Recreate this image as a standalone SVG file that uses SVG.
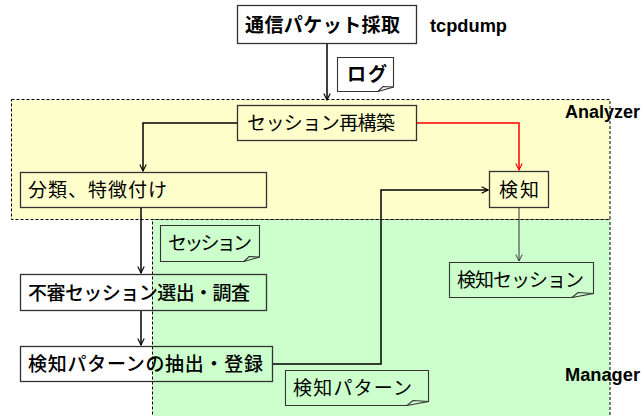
<svg xmlns="http://www.w3.org/2000/svg" width="641" height="416" viewBox="0 0 641 416">
<style>
.region{stroke:#000;stroke-width:1;stroke-dasharray:3,2}
.box{fill:none;stroke:#333;stroke-width:1.3}
.note{fill:none;stroke:#333;stroke-width:1.1}
.t{font-family:"Noto Sans CJK JP","Noto Sans",sans-serif;font-size:19px;fill:#000}
.b{font-weight:bold}
.m{font-weight:500}
.lbl{font-family:"Liberation Sans",Arial,sans-serif;font-weight:bold;font-size:17.5px;fill:#000}
.c{fill:none;stroke:#000;stroke-width:1.5}
.cr{fill:none;stroke:#f00;stroke-width:1.5}
.cg{fill:none;stroke:#333;stroke-width:1}
</style>
<defs>
<marker id="ah" markerUnits="userSpaceOnUse" viewBox="0 0 10 10" refX="9" refY="5" markerWidth="8" markerHeight="8" orient="auto"><path d="M1,1 L9,5 L1,9" fill="none" stroke="#000" stroke-width="1.4"/></marker>
<marker id="ahr" markerUnits="userSpaceOnUse" viewBox="0 0 10 10" refX="9" refY="5" markerWidth="8" markerHeight="8" orient="auto"><path d="M1,1 L9,5 L1,9" fill="none" stroke="#f00" stroke-width="1.4"/></marker>
<marker id="ahg" markerUnits="userSpaceOnUse" viewBox="0 0 10 10" refX="9" refY="5" markerWidth="8" markerHeight="8" orient="auto"><path d="M1,1 L9,5 L1,9" fill="none" stroke="#333" stroke-width="1.2"/></marker>
</defs>
<rect width="641" height="416" fill="#fff"/>
<g id="manager">
<rect class="region" x="152.5" y="219.5" width="457.5" height="210" fill="#ccffcc"/>
<text class="lbl" x="565" y="381" textLength="75" lengthAdjust="spacingAndGlyphs">Manager</text>
</g>
<g id="analyzer">
<rect class="region" x="11.5" y="99.5" width="598.5" height="120" fill="#ffffcc"/>
<text class="lbl" x="565" y="118" textLength="75" lengthAdjust="spacingAndGlyphs">Analyzer</text>
</g>
<g id="connectors">
<path class="c" d="M327,44 V100" marker-end="url(#ah)"/>
<path class="c" d="M237,123 H143 V171" marker-end="url(#ah)"/>
<path class="cr" d="M417,123 H519 V170" marker-end="url(#ahr)"/>
<path class="c" d="M141,208 V273" marker-end="url(#ah)"/>
<path class="c" d="M141,311 V345" marker-end="url(#ah)"/>
<path class="c" d="M273,364 H381 V190 H488" marker-end="url(#ah)"/>
<path class="cg" d="M519,208 V261" marker-end="url(#ahg)"/>
</g>
<g id="capture">
<rect class="box" x="237.5" y="5.5" width="179" height="38"/>
<text class="t b" x="245" y="32" textLength="155">通信パケット採取</text>
</g>
<g id="tcpdump">
<text class="lbl" x="430" y="32" textLength="77" lengthAdjust="spacingAndGlyphs">tcpdump</text>
</g>
<g id="log">
<path class="note" d="M337.5,57.5 H393.5 V87 L378,91.5 H337.5 Z"/>
<path class="note" d="M378,91.5 L383,86.5 L393.5,87"/>
<text class="t b" x="347" y="81" textLength="40">ログ</text>
</g>
<g id="rebuild">
<rect class="box" x="237.5" y="105.5" width="179" height="35"/>
<text class="t" x="247" y="130" textLength="148">セッション再構築</text>
</g>
<g id="classify">
<rect class="box" x="20.5" y="172.5" width="246" height="35"/>
<text class="t" x="28" y="197" textLength="139">分類、特徴付け</text>
</g>
<g id="detect">
<rect class="box" x="489.5" y="171.5" width="59" height="36"/>
<text class="t" x="499" y="197" textLength="40">検知</text>
</g>
<g id="session">
<path class="note" d="M160.5,225.5 H259.5 V257 L244,261.5 H160.5 Z"/>
<path class="note" d="M244,261.5 L249,256.5 L259.5,257"/>
<text class="t" x="168" y="250" textLength="84">セッション</text>
</g>
<g id="detected-session">
<path class="note" d="M449.5,262.5 H593.5 V293.5 L572,297.5 H449.5 Z"/>
<path class="note" d="M572,297.5 L578,292.5 L593.5,293.5"/>
<text class="t" x="457" y="287" textLength="127">検知セッション</text>
</g>
<g id="suspicious">
<rect class="box" x="20.5" y="274.5" width="246" height="36"/>
<text class="t m" x="28" y="300" textLength="222">不審セッション選出・調査</text>
</g>
<g id="extract">
<rect class="box" x="20.5" y="346.5" width="252" height="35"/>
<text class="t m" x="28" y="371" textLength="235">検知パターンの抽出・登録</text>
</g>
<g id="pattern">
<path class="note" d="M285.5,370.5 H428.5 V401.5 L407,405.5 H285.5 Z"/>
<path class="note" d="M407,405.5 L413,400.5 L428.5,401.5"/>
<text class="t" x="293" y="395" textLength="119">検知パターン</text>
</g>
</svg>
